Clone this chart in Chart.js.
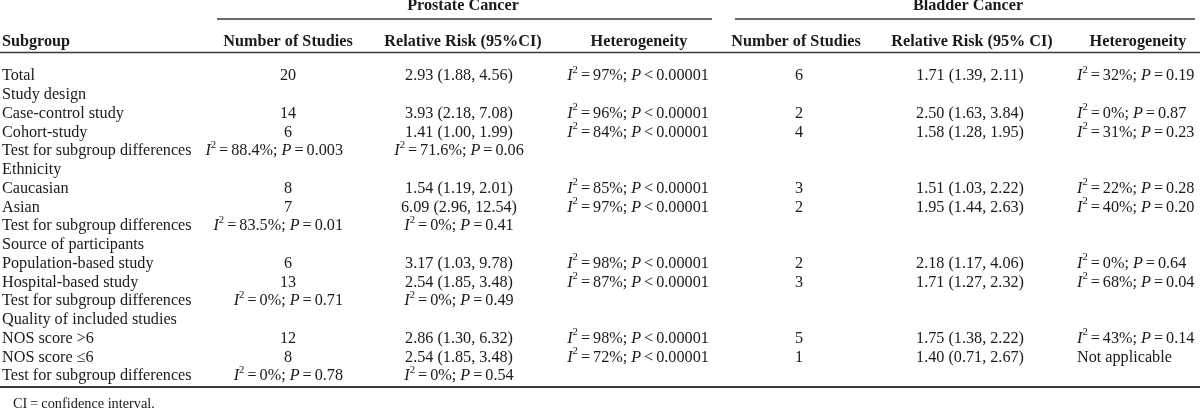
<!DOCTYPE html>
<html>
<head>
<meta charset="utf-8">
<script src="https://cdn.jsdelivr.net/npm/chart.js@4/dist/chart.umd.min.js"></script>
<style>
html,body{margin:0;padding:0;background:#fff;}
#wrap{width:1200px;height:413px;}
</style>
</head>
<body>
<div id="wrap"><canvas id="c" width="1200" height="413"></canvas></div>
<script>
// ---------- DATA ----------
const groupHeaders = ["Prostate Cancer", "Bladder Cancer"];
const columnHeaders = ["Subgroup", "Number of Studies", "Relative Risk (95%CI)", "Heterogeneity",
                       "Number of Studies", "Relative Risk (95% CI)", "Heterogeneity"];
const subgroups = ["Total", "Study design", "Case-control study", "Cohort-study", "Test for subgroup differences",
  "Ethnicity", "Caucasian", "Asian", "Test for subgroup differences",
  "Source of participants", "Population-based study", "Hospital-based study", "Test for subgroup differences",
  "Quality of included studies", "NOS score >6", "NOS score \u22646", "Test for subgroup differences"];
// row type: d = data row, s = section label, t = test for subgroup differences
const rowTypes = ["d","s","d","d","t","s","d","d","t","s","d","d","t","s","d","d","t"];

const prostateStudies = [20, null, 14, 6, null, null, 8, 7, null, null, 6, 13, null, null, 12, 8, null];
const prostateRR = [[2.93,1.88,4.56], null, [3.93,2.18,7.08], [1.41,1.00,1.99], null, null,
  [1.54,1.19,2.01], [6.09,2.96,12.54], null, null, [3.17,1.03,9.78], [2.54,1.85,3.48], null, null,
  [2.86,1.30,6.32], [2.54,1.85,3.48], null];
// heterogeneity: [I2 %, relation, P]
const prostateHet = [[97,"<","0.00001"], null, [96,"<","0.00001"], [84,"<","0.00001"], null, null,
  [85,"<","0.00001"], [97,"<","0.00001"], null, null, [98,"<","0.00001"], [87,"<","0.00001"], null, null,
  [98,"<","0.00001"], [72,"<","0.00001"], null];
// test for subgroup differences (prostate): shown under Number of Studies and Relative Risk columns
const prostateTestA = [null,null,null,null,[88.4,"=","0.003"],null,null,null,[83.5,"=","0.01"],null,null,null,[0,"=","0.71"],null,null,null,[0,"=","0.78"]];
const prostateTestB = [null,null,null,null,[71.6,"=","0.06"],null,null,null,[0,"=","0.41"],null,null,null,[0,"=","0.49"],null,null,null,[0,"=","0.54"]];

const bladderStudies = [6, null, 2, 4, null, null, 3, 2, null, null, 2, 3, null, null, 5, 1, null];
const bladderRR = [[1.71,1.39,2.11], null, [2.50,1.63,3.84], [1.58,1.28,1.95], null, null,
  [1.51,1.03,2.22], [1.95,1.44,2.63], null, null, [2.18,1.17,4.06], [1.71,1.27,2.32], null, null,
  [1.75,1.38,2.22], [1.40,0.71,2.67], null];
const bladderHet = [[32,"=","0.19"], null, [0,"=","0.87"], [31,"=","0.23"], null, null,
  [22,"=","0.28"], [40,"=","0.20"], null, null, [0,"=","0.64"], [68,"=","0.04"], null, null,
  [43,"=","0.14"], "Not applicable", null];
const footnote = "CI = confidence interval.";

// ---------- LAYOUT (not data) ----------
const FONT = '"Liberation Serif", "Times New Roman", serif';
const FS = 16.2;
const ROW_H = 18.75, ROW0 = 76;
const Y_MIN = -ROW0 / ROW_H, Y_MAX = Y_MIN + 413 / ROW_H;
const rowOf = py => (py - ROW0) / ROW_H;   // convert a layout pixel to row units
const col = {
  sub:   {x: 2,    align: "left"},
  pN:    {x: 288,  align: "center"},
  pNt:   {x: 343,  align: "right"},
  pRR:   {x: 459,  align: "center"},
  pHet:  {x: 638,  align: "center"},
  bN:    {x: 799,  align: "center"},
  bRR:   {x: 970,  align: "center"},
  bHet:  {x: 1077, align: "left"}
};
const headerCols = [{x:2,align:"left"},{x:288,align:"center"},{x:463,align:"center"},{x:639,align:"center"},
                    {x:796,align:"center"},{x:972,align:"center"},{x:1138,align:"center"}];
const groupCols = [{x:463, from:217, to:712}, {x:968, from:735, to:1195}];

// ---------- text helpers ----------
const plain = t => [{t}];
const bold = t => [{t, b:true}];
const fmtRR = v => plain(`${v[0].toFixed(2)} (${v[1].toFixed(2)}, ${v[2].toFixed(2)})`);
const fmtHet = v => {
  if (typeof v === "string") return plain(v);
  return [{t:"I", i:true},{t:"2", sup:true},{gap:3},{t:"="},{gap:3},{t:`${v[0]}%;`},{gap:4},
          {t:"P", i:true},{gap:3},{t:v[1]},{gap:3},{t:v[2]}];
};

// ---------- build cells ----------
const cells = [];
function add(c, row, segs, extra) { cells.push(Object.assign({x: c.x, y: row, align: c.align, segs}, extra||{})); }
groupHeaders.forEach((g, i) => add({x: groupCols[i].x, align:"center"}, rowOf(6), bold(g)));
columnHeaders.forEach((h, i) => add(headerCols[i], rowOf(42), bold(h)));
subgroups.forEach((s, r) => {
  add(col.sub, r, plain(s));
  if (prostateStudies[r] != null) add(col.pN, r, plain(String(prostateStudies[r])));
  if (prostateRR[r]) add(col.pRR, r, fmtRR(prostateRR[r]));
  if (prostateHet[r]) add(col.pHet, r, fmtHet(prostateHet[r]));
  if (prostateTestA[r]) add(col.pNt, r, fmtHet(prostateTestA[r]));
  if (prostateTestB[r]) add(col.pRR, r, fmtHet(prostateTestB[r]));
  if (bladderStudies[r] != null) add(col.bN, r, plain(String(bladderStudies[r])));
  if (bladderRR[r]) add(col.bRR, r, fmtRR(bladderRR[r]));
  if (bladderHet[r]) add(col.bHet, r, fmtHet(bladderHet[r]));
});
add({x: 13, align: "left"}, rowOf(404),
    [{t:"CI"},{gap:3},{t:"="},{gap:3},{t:"confidence interval."}], {fs: 14.3});

function setFont(ctx, s, fs) {
  const size = s.sup ? fs * 0.66 : fs;
  ctx.font = `${s.i ? "italic " : ""}${s.b ? "bold " : ""}${size}px ${FONT}`;
}
function drawRich(ctx, segs, x, y, align, fs) {
  let w = 0;
  segs.forEach(s => { if (s.gap) w += s.gap; else { setFont(ctx, s, fs); w += ctx.measureText(s.t).width; } });
  let cx = align === "center" ? x - w / 2 : align === "right" ? x - w : x;
  segs.forEach(s => {
    if (s.gap) { cx += s.gap; return; }
    setFont(ctx, s, fs);
    ctx.fillText(s.t, cx, s.sup ? y - fs * 0.36 : y);
    cx += ctx.measureText(s.t).width;
  });
}

const tablePlugin = {
  id: "tablePlugin",
  afterDraw(chart) {
    const ctx = chart.ctx, xs = chart.scales.x, ys = chart.scales.y;
    ctx.save();
    // rules
    ctx.strokeStyle = "#3a3a3a";
    const hline = (x0, x1, row, lw) => {
      const py = ys.getPixelForValue(row);
      ctx.lineWidth = lw; ctx.beginPath();
      ctx.moveTo(xs.getPixelForValue(x0), py); ctx.lineTo(xs.getPixelForValue(x1), py); ctx.stroke();
    };
    groupCols.forEach(g => hline(g.from, g.to, rowOf(19), 1.3));
    hline(0, 1200, rowOf(52.5), 1.3);
    hline(0, 1200, rowOf(387), 2.2);
    // cells
    ctx.fillStyle = "#1a1a1a";
    ctx.textBaseline = "middle";
    ctx.textAlign = "left";
    const meta = chart.getDatasetMeta(0);
    meta.data.forEach((pt, i) => {
      const c = chart.data.datasets[0].data[i];
      drawRich(ctx, c.segs, pt.x, pt.y, c.align, c.fs || FS);
    });
    ctx.restore();
  }
};

new Chart(document.getElementById("c"), {
  type: "scatter",
  data: { datasets: [{ data: cells, pointRadius: 0, showLine: false }] },
  options: {
    responsive: false,
    animation: false,
    devicePixelRatio: 1,
    events: [],
    layout: { padding: 0 },
    plugins: { legend: { display: false }, tooltip: { enabled: false } },
    scales: {
      x: { type: "linear", min: 0, max: 1200, display: false },
      y: { type: "linear", min: Y_MIN, max: Y_MAX, reverse: true, display: false }
    }
  },
  plugins: [tablePlugin]
});
</script>
</body>
</html>
